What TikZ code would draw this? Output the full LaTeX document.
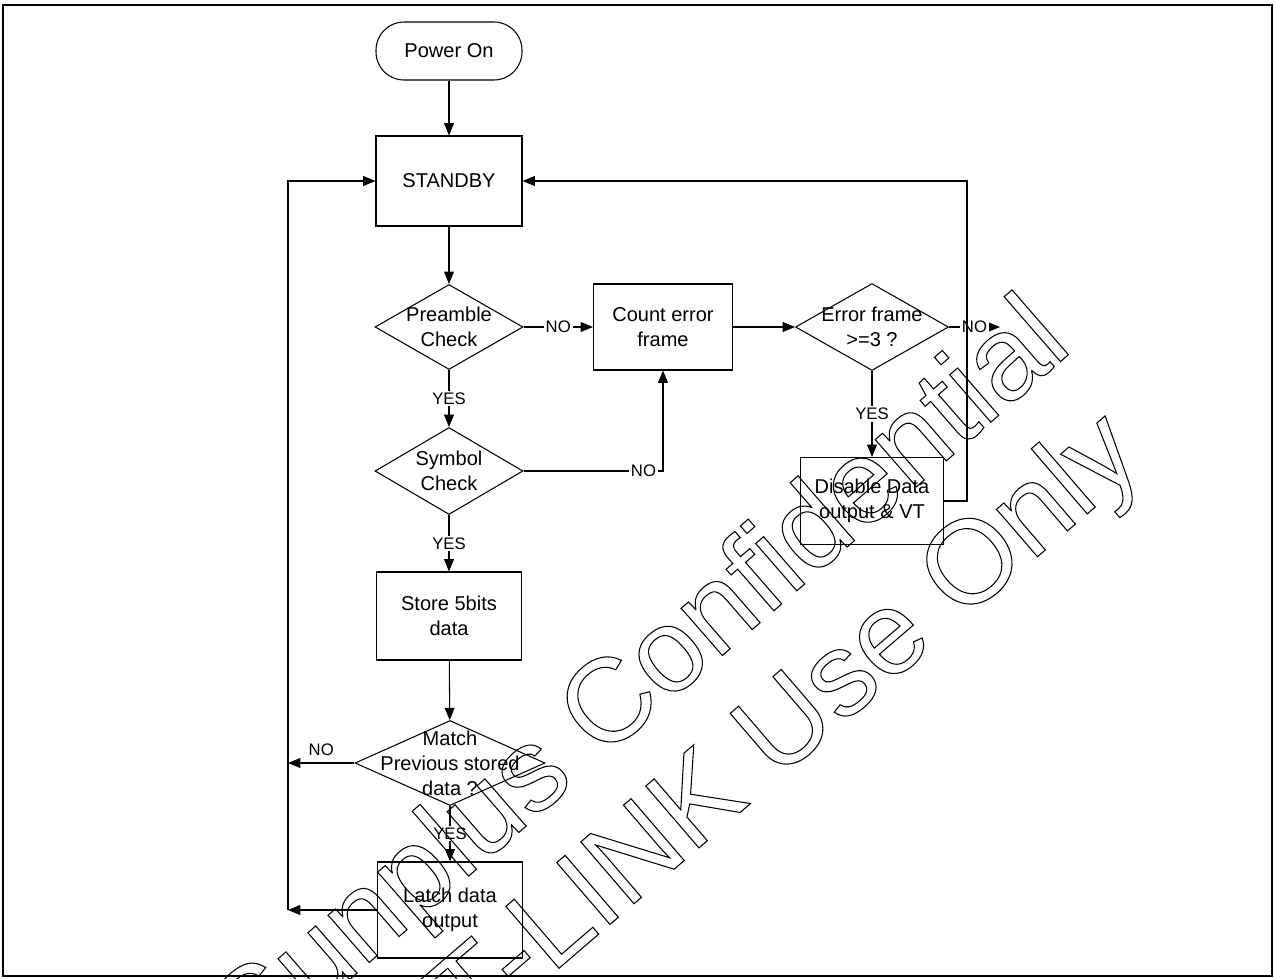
\documentclass[tikz,border=0pt]{standalone}
\usepackage{fontspec}
\setmainfont{Liberation Sans}
\usetikzlibrary{arrows.meta,shapes.geometric}

% centred line of zero width, so the diamonds keep their own size
\newcommand\dline[1]{\makebox[0pt]{#1}}
% hollow letters for the stamp
\newcommand\hollowtext[1]{\special{pdf:literal direct 1 Tr 0.6 w}#1\special{pdf:literal direct 0 Tr}}

\begin{document}
\begin{tikzpicture}[x=0.02cm,y=-0.02cm,>={Triangle[length=7pt,width=5.6pt]},line width=0.6pt,line join=miter,
  box/.style={draw,align=center,inner sep=1pt,font=\fontsize{11.4}{14.2}\selectfont},
  terminal/.style={box,rounded corners=0.56cm,minimum width=2.92cm,minimum height=1.16cm},
  check/.style={draw,diamond,align=center,inner sep=0pt,font=\fontsize{11.4}{14.2}\selectfont},
  lbl/.style={fill=white,inner sep=1pt,font=\fontsize{9.5}{11}\selectfont},
  stamp/.style={inner sep=0pt,font=\fontsize{67.5}{75}\selectfont}]
\useasboundingbox (0,0) rectangle (1275,978);
\draw[line width=0.8pt] (3,5) rectangle (1272,976);

\node[terminal] (pwr) at (449,51) {Power On};
\node[box,minimum width=2.92cm,minimum height=1.8cm] (stby) at (449,181) {STANDBY};
\node[check,minimum width=2.96cm,minimum height=1.7cm] (pre) at (449,327) {\dline{Preamble}\\\dline{Check}};
\node[box,minimum width=2.78cm,minimum height=1.72cm] (cnt) at (663,327) {Count error\\frame};
\node[check,minimum width=3.06cm,minimum height=1.74cm] (err) at (872,327) {\dline{Error frame}\\\dline{>=3 ?}};
\node[box,minimum width=2.86cm,minimum height=1.74cm] (dis) at (872,501) {Disable Data\\output \& VT};
\node[check,minimum width=2.96cm,minimum height=1.74cm] (sym) at (449,471) {\dline{Symbol}\\\dline{Check}};
\node[box,minimum width=2.9cm,minimum height=1.76cm] (sto) at (449,616) {Store 5bits\\data};
\node[check,minimum width=3.8cm,minimum height=1.7cm] (mat) at (450,763) {\dline{Match}\\\dline{Previous stored}\\\dline{data ?}};
\node[box,minimum width=2.9cm,minimum height=1.92cm] (lat) at (450,910) {Latch data\\output};

\coordinate (errno) at (1000,327);
\coordinate (rtop) at (967,181);
\coordinate (lmid) at (288,763);
\coordinate (lbot) at (288,910);
\coordinate (ltop) at (288,181);

\draw[->] (pwr) -- (stby);
\draw[->] (stby) -- (pre);
\draw[->] (pre) -- node[lbl]{NO} (cnt);
\draw[->] (pre) -- node[lbl]{YES} (sym);
\draw[->] (sym.east) -| node[lbl,pos=0.43]{NO} (cnt.south);
\draw[->] (cnt) -- (err);
\draw[->] (err.east) -- node[lbl]{NO} (errno);
\draw[->] (err) -- node[lbl]{YES} (dis);
\draw[->] (dis.east) -| (rtop) -- (stby.east);
\draw[->] (sym) -- node[lbl]{YES} (sto);
\draw[->] (sto) -- (mat);
\draw[->] (mat.west) -- node[lbl,fill=none,above=3pt]{NO} (lmid);
\draw[->] (mat) -- node[lbl]{YES} (lat);
\draw[->] (lat.west) -- (lbot);
\draw[->] (lbot) -- (ltop) -- (stby.west);

\node[stamp,rotate=41] (wm1) at (644,683) {\hollowtext{Sunplus Confidential}};
\node[stamp,rotate=40.7] (wm2) at (789,730) {\hollowtext{T-LINK Use Only}};
\end{tikzpicture}
\end{document}
